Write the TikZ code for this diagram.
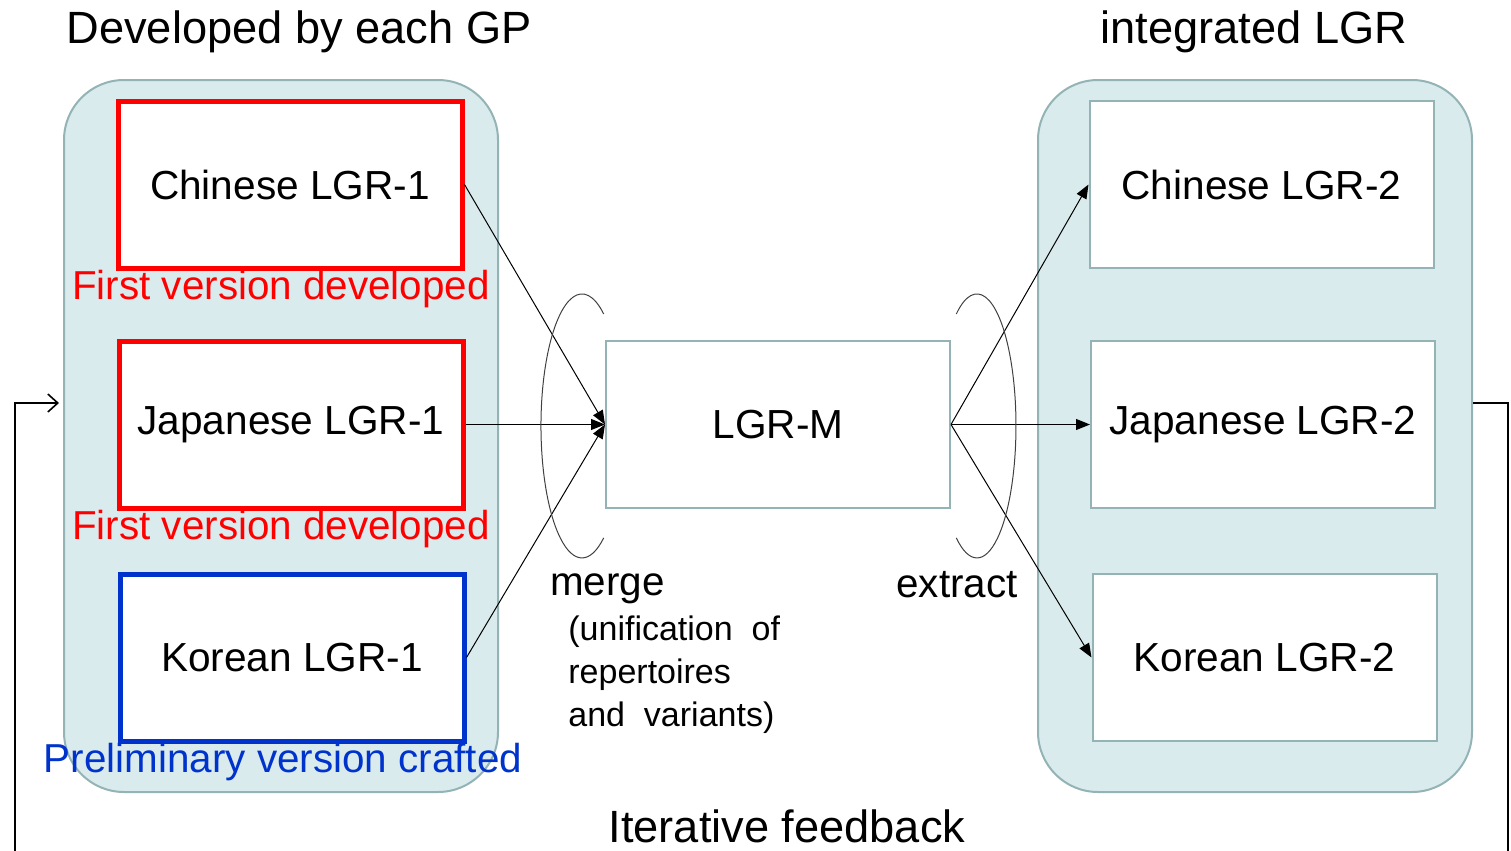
\documentclass[tikz,border=0pt]{standalone}
\usepackage{fontspec}
\setmainfont{Liberation Sans}
\usetikzlibrary{arrows.meta,positioning}
\definecolor{panelfill}{RGB}{218,235,238}
\definecolor{paneledge}{RGB}{147,179,181}
\definecolor{markred}{RGB}{255,0,0}
\definecolor{markblue}{RGB}{0,51,204}
\tikzset{
  panel/.style={draw=paneledge, line width=1pt, fill=panelfill, rounded corners=30pt,
    minimum width=217pt, minimum height=356pt},
  lgrbox/.style={draw=paneledge, line width=1pt, fill=white, minimum width=172pt,
    minimum height=83.5pt, font=\fontsize{20.3}{24}\selectfont},
  firstbox/.style={lgrbox, draw=markred, line width=2.5pt},
  prelimbox/.style={lgrbox, draw=markblue, line width=2.5pt},
  flow/.style={line width=0.5pt, -{Triangle[length=7pt,width=5.5pt]}},
  bigtext/.style={font=\fontsize{22.6}{27}\selectfont},
  midtext/.style={font=\fontsize{20.2}{24}\selectfont},
}
\begin{document}
\begin{tikzpicture}[x=0.5pt,y=0.5pt]
\useasboundingbox (0,0) rectangle (1511,-851);
% Panels
\node[panel] (left) at (281,-436) {};
\node[panel] (right) at (1255,-436) {};

% Titles
\node[bigtext] (lefttitle) at (299,-32) {Developed by each GP};
\node[bigtext] (righttitle) at (1254,-32) {integrated LGR};

% LGR-1 of each GP
\node[firstbox] (cnOne) at (290,-184.5) {Chinese LGR-1};
\node[firstbox] (jpOne) at (291,-424.5) {Japanese LGR-1};
\node[prelimbox] (krOne) at (292,-657.5) {Korean LGR-1};
\node[midtext, text=markred] (cnNote) at (281,-289) {First version developed};
\node[midtext, text=markred] (jpNote) at (281,-529) {First version developed};
\node[midtext, text=markblue] (krNote) at (283,-762) {Preliminary version crafted};

% Merged LGR
\node[lgrbox] (merged) at (778,-424.5) {LGR-M};

% Integrated LGR-2
\node[lgrbox] (cnTwo) at (1261.5,-184.5) {Chinese LGR-2};
\node[lgrbox] (jpTwo) at (1263,-424.5) {Japanese LGR-2};
\node[lgrbox] (krTwo) at (1264.5,-657.5) {Korean LGR-2};

% Merge and extract
\draw[flow] (cnOne.east) -- (merged.west);
\draw[flow] (jpOne.east) -- (merged.west);
\draw[flow] (krOne.east) -- (merged.west);
\draw[flow] (merged.east) -- (cnTwo.west);
\draw[flow] (merged.east) -- (jpTwo.west);
\draw[flow] (merged.east) -- (krTwo.west);
\draw[line width=0.5pt, black!75] (603.7,-314) arc[start angle=58, end angle=302, x radius=41, y radius=132];
\draw[line width=0.5pt, black!75] (956.3,-314) arc[start angle=122, end angle=-122, x radius=39, y radius=132];

\node[midtext, anchor=west] (mergelabel) at (543,-589) {merge};
\node[font=\fontsize{17}{21.5}\selectfont, align=left, anchor=north west, inner sep=0pt]
  (mergenote) at (568,-615) {(unification\ \ of\\repertoires\\and\ \ variants)};
\node[midtext] (extractlabel) at (957,-585) {extract};

% Iterative feedback
\coordinate (backR) at (1508,-851);
\coordinate (backL) at (15,-851);
\draw[line width=0.8pt] ([yshift=16.5pt]right.east) -| (backR);
\draw[line width=0.8pt, -{Straight Barb[length=5pt,width=9pt]}] (backL) |- ([xshift=-2pt,yshift=16.5pt]left.west);
\node[bigtext] (feedback) at (787,-826) {Iterative feedback};
\end{tikzpicture}
\end{document}
